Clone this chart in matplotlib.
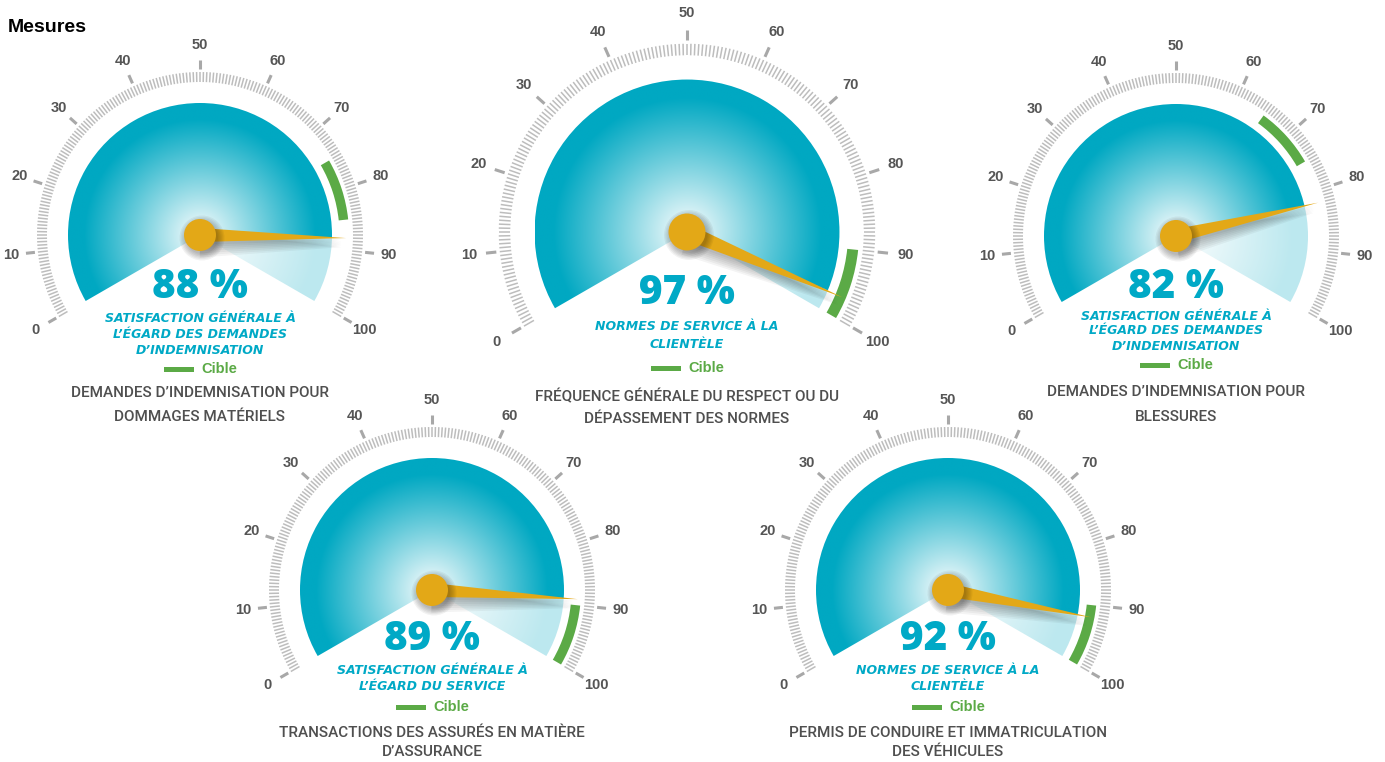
import numpy as np
import matplotlib
matplotlib.use("Agg")
import matplotlib.pyplot as plt
from matplotlib.patches import Wedge, Polygon, Circle, Rectangle

# --- data -------------------------------------------------------------
values = [88, 97, 82, 89, 92]
target_low = [75, 90, 65, 90, 90]
target_high = [85, 100, 75, 100, 100]
pct_labels = ["88 %", "97 %", "82 %", "89 %", "92 %"]
subtitles = [
    ["SATISFACTION GÉNÉRALE À", "L’ÉGARD DES DEMANDES", "D’INDEMNISATION"],
    ["NORMES DE SERVICE À LA", "CLIENTÈLE"],
    ["SATISFACTION GÉNÉRALE À", "L’ÉGARD DES DEMANDES", "D’INDEMNISATION"],
    ["SATISFACTION GÉNÉRALE À", "L’ÉGARD DU SERVICE"],
    ["NORMES DE SERVICE À LA", "CLIENTÈLE"],
]
captions = [
    ["DEMANDES D’INDEMNISATION POUR", "DOMMAGES MATÉRIELS"],
    ["FRÉQUENCE GÉNÉRALE DU RESPECT OU DU", "DÉPASSEMENT DES NORMES"],
    ["DEMANDES D’INDEMNISATION POUR", "BLESSURES"],
    ["TRANSACTIONS DES ASSURÉS EN MATIÈRE", "D’ASSURANCE"],
    ["PERMIS DE CONDUIRE ET IMMATRICULATION", "DES VÉHICULES"],
]
scale_ticks = list(range(0, 101, 10))
legend_label = "Cible"

# --- layout (pixels, y measured from top) -----------------------------
W, H = 1385, 762
centers = [(200, 235), (687, 232), (1176, 236), (432, 590), (948, 590)]
scales = [1.0, 1.155, 1.0, 1.0, 1.0]
text_dy = [
    dict(pct=52, sub=[83, 99, 115], cible=134, cap=[158, 182]),
    dict(pct=61, sub=[94, 112], cible=136, cap=[165, 187]),
    dict(pct=52, sub=[80, 95, 111], cible=129, cap=[156, 181]),
    dict(pct=50, sub=[80, 96], cible=117, cap=[143, 162]),
    dict(pct=50, sub=[80, 96], cible=117, cap=[143, 162]),
]

CYAN = np.array([0, 168, 194]) / 255
CYAN_TXT = "#00a9c6"
GREEN = "#5baa46"
ORANGE = "#e3a817"
GRAY_TXT = "#555555"
CAP_TXT = "#4f4f4f"
TICK = "#bdbdbd"
MAJOR = "#a8a8a8"


def Y(y):
    return H - y


def ang(v):
    return 210 - 2.4 * v


fig = plt.figure(figsize=(W / 100, H / 100), dpi=100)
ax = fig.add_axes([0, 0, 1, 1])
ax.set_xlim(0, W)
ax.set_ylim(0, H)
ax.axis("off")


def draw_gauge(i):
    cx, cy_top = centers[i]
    cy = Y(cy_top)
    s = scales[i]
    R = 132 * s

    # gradient fill clipped to the 240 degree sector
    n = 500
    xs = np.linspace(cx - R, cx + R, n)
    ys = np.linspace(cy - R, cy + R, n)
    gx, gy = np.meshgrid(xs, ys)
    dx, dy = gx - cx, gy - cy
    t = np.hypot(dx, dy) / R
    a = np.degrees(np.arctan2(dy, dx))
    a = np.where(a < -90, a + 360, a)
    v = (210 - a) / 2.4
    f = np.clip(t / 0.88, 0, 1) ** 0.95
    f = np.where(v <= values[i], f, 0.26 * f)
    rgb = (1 - f[..., None]) * 1.0 + f[..., None] * CYAN
    img = ax.imshow(rgb, extent=[cx - R, cx + R, cy - R, cy + R], origin="lower",
                    aspect="auto", interpolation="bilinear", zorder=1)
    clip = Wedge((cx, cy), R, -30, 210, transform=ax.transData)
    img.set_clip_path(clip)

    # tick ring
    for k in range(201):
        th = np.radians(ang(k / 2))
        r0, r1 = 153 * s, 163 * s
        ax.plot([cx + r0 * np.cos(th), cx + r1 * np.cos(th)],
                [cy + r0 * np.sin(th), cy + r1 * np.sin(th)],
                color=TICK, lw=1.1, solid_capstyle="butt", zorder=2)
    for tv in scale_ticks:
        th = np.radians(ang(tv))
        r0, r1 = 166 * s, 175 * s
        ax.plot([cx + r0 * np.cos(th), cx + r1 * np.cos(th)],
                [cy + r0 * np.sin(th), cy + r1 * np.sin(th)],
                color=MAJOR, lw=2.2, solid_capstyle="butt", zorder=2)
        rl = 190 * s
        ax.text(cx + rl * np.cos(th), cy + rl * np.sin(th), str(tv),
                ha="center", va="center", fontsize=10.5, fontweight="bold",
                color=GRAY_TXT, family="Liberation Sans", zorder=3)

    # target arc
    ax.add_patch(Wedge((cx, cy), 149 * s, ang(target_high[i]), ang(target_low[i]),
                       width=9.5 * s, color=GREEN, lw=0, zorder=3))

    # needle with soft shadow
    th = np.radians(ang(values[i]))
    ux, uy = np.cos(th), np.sin(th)
    px, py = -uy, ux
    tip = 146 * s
    hw = 7 * s
    for k in range(7):
        off = 2 + k * 1.2
        grow = 1 + k * 0.9
        pts = [(cx + px * (hw + grow), cy + py * (hw + grow) - off),
               (cx + ux * tip * 0.97, cy + uy * tip * 0.97 - off),
               (cx - px * (hw + grow), cy - py * (hw + grow) - off)]
        ax.add_patch(Polygon(pts, closed=True, color="black", alpha=0.045, lw=0, zorder=4))
    pts = [(cx + px * hw, cy + py * hw), (cx + ux * tip, cy + uy * tip),
           (cx - px * hw, cy - py * hw)]
    ax.add_patch(Polygon(pts, closed=True, color=ORANGE, lw=0, zorder=5))
    rc = 16 * s
    for k in range(6):
        ax.add_patch(Circle((cx + 2, cy - 3), rc + k * 1.3, color="black",
                            alpha=0.05, lw=0, zorder=5))
    ax.add_patch(Circle((cx, cy), rc, color=ORANGE, lw=0, zorder=6))

    # texts
    d = text_dy[i]
    ax.text(cx, Y(cy_top + d["pct"]), pct_labels[i], ha="center", va="center",
            fontsize=29, fontweight="heavy", color=CYAN_TXT, family="Open Sans", zorder=7)
    for line, dy_ in zip(subtitles[i], d["sub"]):
        ax.text(cx, Y(cy_top + dy_), line, ha="center", va="center", fontsize=9,
                fontweight="bold", style="italic", color=CYAN_TXT,
                family="DejaVu Sans", zorder=7)
    yc = Y(cy_top + d["cible"])
    ax.add_patch(Rectangle((cx - 36, yc - 2.5), 30, 5, color=GREEN, lw=0, zorder=7))
    ax.text(cx + 1, yc, legend_label, ha="left", va="center", fontsize=10.5,
            fontweight="bold", color=GREEN, family="Liberation Sans", zorder=7)
    for line, dy_ in zip(captions[i], d["cap"]):
        ax.text(cx, Y(cy_top + dy_), line, ha="center", va="center", fontsize=11,
                fontweight="medium", color=CAP_TXT, family="Roboto", zorder=7)


for i in range(len(values)):
    draw_gauge(i)

ax.text(8, Y(28), "Mesures", ha="left", va="center", fontsize=14,
        fontweight="bold", color="black", family="Liberation Sans")

fig.savefig("out.png", dpi=100)
